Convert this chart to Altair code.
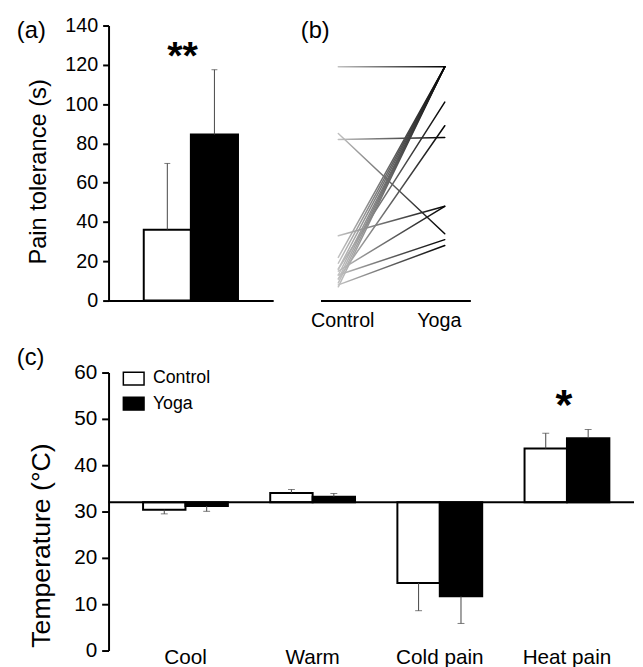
import altair as alt
import pandas as pd

FONT = "Liberation Sans"

# ---------------- data ----------------
# (a) pain tolerance (s), mean and one-sided error
groups = ["Control", "Yoga"]
tol_mean = [36.1, 84.5]
tol_err = [33.7, 33.0]

# (b) individual subjects: control value -> yoga value
b_control = [119, 85, 82, 33, 15, 13, 8, 7, 9, 11, 13, 16, 19, 22, 16, 11]
b_yoga = [119, 34, 83, 48, 48, 31, 28, 119, 119, 119, 119, 119, 119, 119, 101, 89]

# (c) temperature thresholds (°C)
tests = ["Cool", "Warm", "Cold pain", "Heat pain"]
c_control = [30.4, 34.0, 14.6, 43.6]
c_yoga = [31.2, 33.2, 11.7, 45.8]
c_control_err = [0.9, 0.75, 6.0, 3.3]
c_yoga_err = [1.15, 0.7, 5.85, 1.9]
c_baseline = 32

a_ticks = [0, 20, 40, 60, 80, 100, 120, 140]
c_ticks = [0, 10, 20, 30, 40, 50, 60]

# ---------------- tables ----------------
df_a = pd.DataFrame({"group": groups, "mean": tol_mean, "err": tol_err})
df_a["top"] = df_a["mean"] + df_a["err"]

rows = []
for i, (cv, yv) in enumerate(zip(b_control, b_yoga)):
    rows.append({"subject": i, "cond": "Control", "value": cv})
    rows.append({"subject": i, "cond": "Yoga", "value": yv})
df_b = pd.DataFrame(rows)

rows = []
for t, cm, ym, ce, ye in zip(tests, c_control, c_yoga, c_control_err, c_yoga_err):
    for g, m, e in (("Control", cm, ce), ("Yoga", ym, ye)):
        sign = 1 if m >= c_baseline else -1
        rows.append({"test": t, "group": g, "mean": m, "base": c_baseline, "end": m + sign * e})
df_c = pd.DataFrame(rows)

one = pd.DataFrame({"k": [0]})

ERR_COLOR = "#444444"

# ---------------- panel (a) ----------------
W_A, H_A = 167, 279
scale_xa = alt.Scale(domain=groups, paddingInner=0, paddingOuter=0.747, align=0.5)
axis_xa = alt.Axis(title=None, labels=False, ticks=False, domain=True)
scale_ya = alt.Scale(domain=[0, 140], nice=False)
axis_ya = alt.Axis(values=a_ticks, tickCount=len(a_ticks), title="Pain tolerance (s)",
                   titleFontSize=24, labelFontSize=20, tickSize=6, labelPadding=5,
                   labelOverlap=False, labelFlush=False, minExtent=45, maxExtent=45,
                   titlePadding=14, titleY=148)


def xa(field="group"):
    return alt.X(f"{field}:N", scale=scale_xa, axis=axis_xa)


def ya(field):
    return alt.Y(f"{field}:Q", scale=scale_ya, axis=axis_ya)


fill_a = alt.Fill("group:N", scale=alt.Scale(domain=groups, range=["white", "black"]), legend=None)

base_a = alt.Chart(df_a)
bars_a = base_a.mark_bar(stroke="black", strokeWidth=2).encode(x=xa(), y=ya("mean"), fill=fill_a)
err_a = base_a.mark_rule(color=ERR_COLOR, strokeWidth=1).encode(
    x=xa(), y=ya("mean"), y2=alt.Y2("top:Q"))
cap_a = base_a.mark_tick(color=ERR_COLOR, thickness=1, size=6).encode(x=xa(), y=ya("top"))
star_a = alt.Chart(one).mark_text(text="**", fontSize=40, fontWeight="bold", align="center",
                                  baseline="alphabetic").encode(x=alt.value(75), y=alt.value(44))
lab_a = alt.Chart(one).mark_text(text="(a)", fontSize=24, align="left",
                                 baseline="alphabetic").encode(x=alt.value(-93), y=alt.value(13))
chart_a = alt.layer(bars_a, err_a, cap_a, star_a, lab_a).properties(width=W_A, height=H_A)

# ---------------- panel (b) ----------------
W_B, H_B = 152, 279
xb = alt.X("cond:N",
           scale=alt.Scale(type="point", domain=groups, padding=0.2037, align=0.41),
           axis=alt.Axis(title=None, ticks=False, labelFontSize=20, labelPadding=10, labelAngle=0,
                         labelOffset={"condition": {"test": "datum.value == 'Control'", "value": 4},
                                      "value": -6}))
yb = alt.Y("value:Q", scale=alt.Scale(domain=[0, 140], nice=False), axis=None)
grad = alt.LinearGradient(
    gradient="linear",
    stops=[alt.GradientStop(color="#c2c2c2", offset=0),
           alt.GradientStop(color="#000000", offset=1)],
    x1=0, x2=1, y1=0, y2=0)
lines_b = alt.Chart(df_b).mark_trail(fill=grad, size=1.5).encode(
    x=xb, y=yb, detail="subject:N", order="cond:N")
lab_b = alt.Chart(one).mark_text(text="(b)", fontSize=24, align="left",
                                 baseline="alphabetic").encode(x=alt.value(-20), y=alt.value(13))
chart_b = alt.layer(lines_b, lab_b).properties(width=W_B, height=H_B)

# ---------------- panel (c) ----------------
W_C, H_C = 530, 282
scale_xc = alt.Scale(domain=tests, paddingInner=0.333, paddingOuter=0.221, align=0.614)
xoc = alt.XOffset("group:N", scale=alt.Scale(domain=groups, paddingInner=0, paddingOuter=0))
scale_yc = alt.Scale(domain=[0, 60], nice=False)
axis_yc = alt.Axis(values=c_ticks, tickCount=len(c_ticks), title="Temperature (°C)",
                   titleFontSize=27, labelFontSize=21, tickSize=7, labelPadding=5,
                   labelOverlap=False, labelFlush=False, minExtent=45, maxExtent=45,
                   titlePadding=9, titleY=175)


def xc():
    return alt.X("test:N", scale=scale_xc, axis=None)


def yc(field):
    return alt.Y(f"{field}:Q", scale=scale_yc, axis=axis_yc)


fill_c = alt.Fill("group:N", scale=alt.Scale(domain=groups, range=["white", "black"]),
                  legend=alt.Legend(orient="none", legendX=14, legendY=-5.4, title=None,
                                    symbolType="M-1,-0.62H1V0.62H-1Z", symbolSize=441,
                                    symbolStrokeColor="black", symbolStrokeWidth=1.5,
                                    symbolOpacity=1,
                                    labelFontSize=18, labelFont=FONT, labelColor="black",
                                    rowPadding=3.5, labelOffset=8, padding=0))
base_c = alt.Chart(df_c)
bars_c = base_c.mark_bar(stroke="black", strokeWidth=2).encode(
    x=xc(), xOffset=xoc, y=yc("mean"), y2=alt.Y2("base:Q"), fill=fill_c)
rule_c = alt.Chart(one).mark_rule(color="black", strokeWidth=2).encode(
    y=alt.Y(datum=c_baseline, scale=scale_yc, axis=axis_yc), x=alt.value(0), x2=alt.value(533))
err_c = base_c.mark_rule(color=ERR_COLOR, strokeWidth=1).encode(
    x=xc(), xOffset=xoc, y=yc("mean"), y2=alt.Y2("end:Q"))
cap_c = base_c.mark_tick(color=ERR_COLOR, thickness=1, size=7).encode(
    x=xc(), xOffset=xoc, y=yc("end"))
cat_c = alt.Chart(pd.DataFrame({"test": tests})).mark_text(
    fontSize=21, baseline="alphabetic").encode(x=xc(), y=alt.value(296), text="test:N")
star_c = alt.Chart(one).mark_text(text="*", fontSize=44, fontWeight="bold", align="center",
                                  baseline="alphabetic").encode(x=alt.value(462), y=alt.value(47))
lab_c = alt.Chart(one).mark_text(text="(c)", fontSize=24, align="left",
                                 baseline="alphabetic").encode(x=alt.value(-93), y=alt.value(-8))
chart_c = alt.layer(bars_c, rule_c, err_c, cap_c, cat_c, star_c, lab_c).properties(
    width=W_C, height=H_C)

# ---------------- assemble ----------------
top = alt.hconcat(chart_a, chart_b, spacing=48, bounds="flush")
chart = (
    alt.vconcat(top, chart_c, spacing=16, bounds="full")
    .resolve_scale(fill="independent")
    .properties(padding={"left": 9, "top": 3, "right": 0, "bottom": 0})
    .configure(font=FONT)
    .configure_view(stroke=None)
    .configure_axis(labelFont=FONT, titleFont=FONT, labelColor="black", titleColor="black",
                    domainColor="black", tickColor="black", domainWidth=2, tickWidth=2,
                    grid=False, titleFontWeight="normal")
    .configure_text(font=FONT, color="black")
)

chart.save("out.html", embed_options={"renderer": "svg", "actions": False})
